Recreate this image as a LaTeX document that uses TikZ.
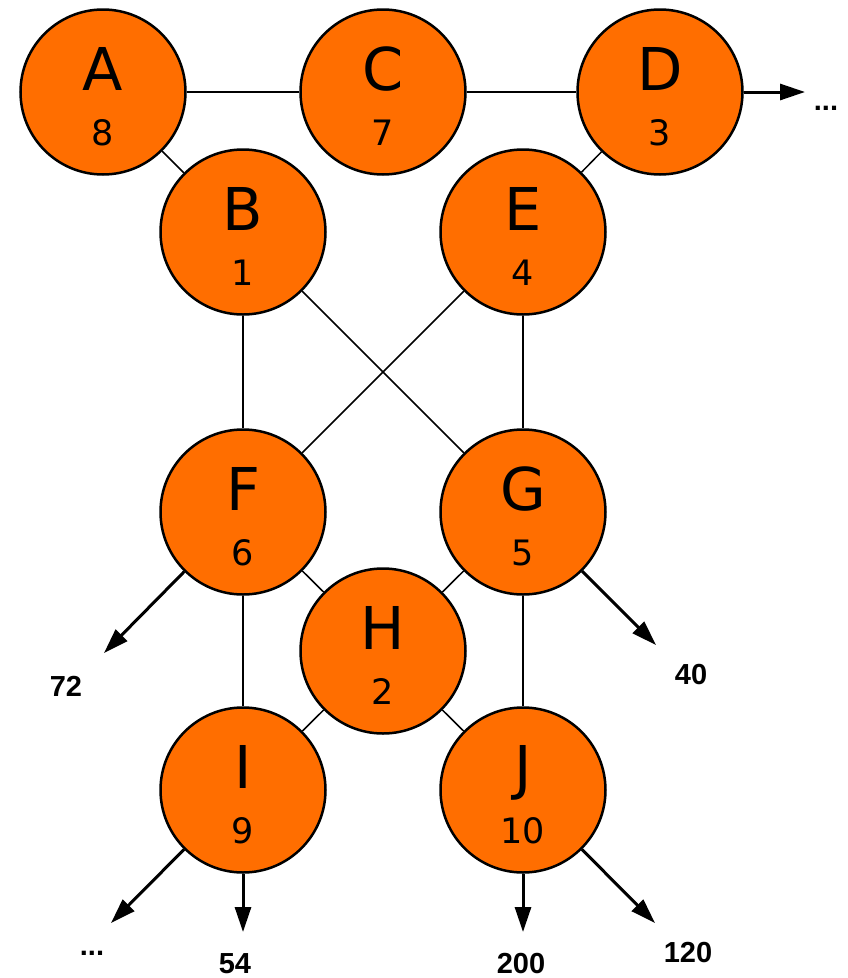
\documentclass[tikz,border=0pt]{standalone}
\usepackage{fontspec}
\setmainfont{DejaVu Sans}
\newfontfamily\labelfont{Liberation Sans}
\usetikzlibrary{arrows.meta}
\definecolor{nodeorange}{RGB}{255,110,0}

\begin{document}
\begin{tikzpicture}[x=1pt,y=1pt,
        vertex/.style={circle,draw=black,line width=2.5pt,fill=nodeorange,minimum size=165pt,inner sep=0pt},
        vletter/.style={anchor=base,inner sep=0pt,font=\fontsize{59}{59}\selectfont},
        vnumber/.style={anchor=base,inner sep=0pt,font=\fontsize{35}{35}\selectfont},
        link/.style={line width=1.5pt},
        pointer/.style={line width=3pt,-{Triangle[length=25pt,width=16pt]}},
        endlabel/.style={anchor=base,inner sep=0pt,font=\labelfont\bfseries\fontsize{29}{29}\selectfont}]
            \useasboundingbox (0,0) rectangle (847,-978);

            % vertices
            \foreach \n/\x/\y/\v in {A/103/92/8, B/243/232/1, C/383/92/7, D/660/92/3, E/523/232/4,
                                     F/243/512/6, G/523/512/5, H/383/651/2, I/243/790/9, J/523/790/10}{
                \node[vertex] (\n) at (\x,-\y) {};
                \node[vletter] (\n-letter) at ([yshift=2pt]\n.center) {\n};
                \node[vnumber] (\n-number) at ([yshift=-53pt]\n.center) {\v};
            }

            % edges
            \foreach \a/\b in {A/C, C/D, A/B, D/E, B/F, B/G, E/F, E/G, F/H, G/H, H/I, H/J, F/I, G/J}
                \draw[link] (\a) -- (\b);

            % outgoing arrows
            \coordinate (d-out) at (805,-92);
            \coordinate (f-out) at (104,-653);
            \coordinate (g-out) at (656,-645);
            \coordinate (i-left) at (111,-923);
            \coordinate (i-down) at (243,-932);
            \coordinate (j-down) at (523,-932);
            \coordinate (j-right) at (655,-923);
            \draw[pointer] (D) -- (d-out);
            \draw[pointer] (F) -- (f-out);
            \draw[pointer] (G) -- (g-out);
            \draw[pointer] (I) -- (i-left);
            \draw[pointer] (I) -- (i-down);
            \draw[pointer] (J) -- (j-down);
            \draw[pointer] (J) -- (j-right);

            % labels at the arrow ends
            \node[endlabel] (d-label) at (826,-110) {...};
            \node[endlabel] (f-label) at (66,-696) {72};
            \node[endlabel] (g-label) at (691,-684) {40};
            \node[endlabel] (il-label) at (92,-955) {...};
            \node[endlabel] (id-label) at (235,-973) {54};
            \node[endlabel] (jd-label) at (521,-973) {200};
            \node[endlabel] (jr-label) at (688,-962) {120};
        \end{tikzpicture}
\end{document}
